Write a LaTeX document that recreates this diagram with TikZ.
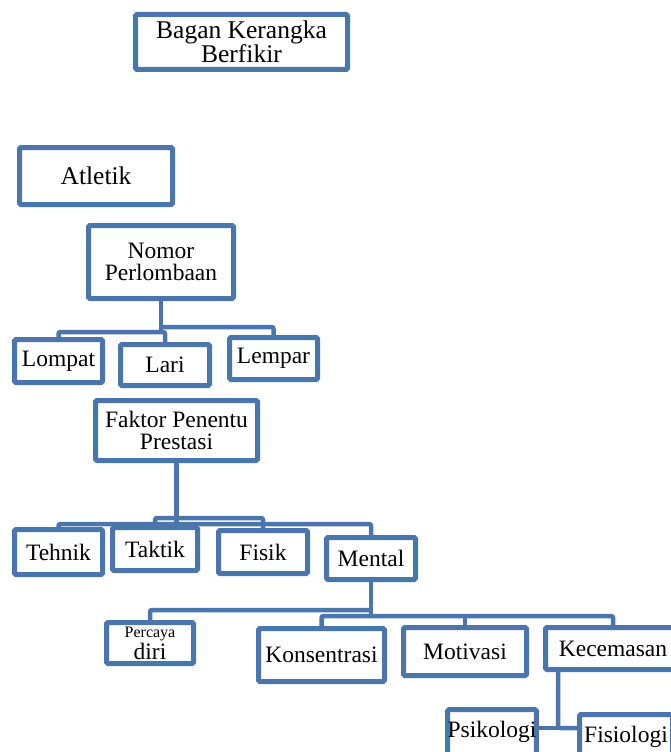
\documentclass[tikz,border=0pt]{standalone}
\usepackage{fontspec}
\setmainfont{Liberation Serif}
\usetikzlibrary{positioning}
\definecolor{boxline}{RGB}{74,118,173}

\begin{document}
\begin{tikzpicture}[
  x=1pt, y=-1pt,
  font=\fontsize{23.5}{22}\selectfont,
  box/.style={draw=boxline, line width=5pt, rounded corners=1.5pt, fill=white,
              inner sep=0pt, align=center},
  link/.style={draw=boxline, line width=4.5pt, rounded corners=2pt},
  bigtext/.style={font=\fontsize{25.5}{23}\selectfont},
]
\useasboundingbox (0,0) rectangle (670,752);
% header
\node[box, bigtext, minimum width=212pt, minimum height=55pt] (title) at (241.5,42)
  {Bagan Kerangka\\ Berfikir};
\node[box, bigtext, minimum width=153pt, minimum height=57pt] (atletik) at (96,176) {Atletik};
% nomor perlombaan
\node[box, minimum width=145pt, minimum height=73pt] (nomor) at (161,262) {Nomor\\ Perlombaan};
\node[box, minimum width=88pt, minimum height=43pt] (lompat) at (58.5,361) {Lompat};
\node[box, minimum width=89pt, minimum height=41pt] (lari) at (165,365) {Lari};
\node[box, minimum width=88pt, minimum height=42pt] (lempar) at (273.5,358.5) {Lempar};
% faktor penentu
\node[box, minimum width=162pt, minimum height=60pt] (faktor) at (176.5,430.5) {Faktor Penentu\\ Prestasi};
\node[box, minimum width=88pt, minimum height=45pt] (tehnik) at (58.5,552) {Tehnik};
\node[box, minimum width=85pt, minimum height=43pt] (taktik) at (155,549) {Taktik};
\node[box, minimum width=89pt, minimum height=43pt] (fisik) at (263,552) {Fisik};
\node[box, minimum width=89pt, minimum height=42pt] (mental) at (371,558.5) {Mental};
% mental
\node[box, minimum width=87pt, minimum height=41pt] (percaya) at (150,643)
  {{\fontsize{16}{16}\selectfont Percaya}\\ diri};
\node[box, minimum width=126pt, minimum height=53pt] (konsentrasi) at (321.5,655) {Konsentrasi};
\node[box, minimum width=123pt, minimum height=48pt] (motivasi) at (465,651.5) {Motivasi};
\node[box, minimum width=135pt, minimum height=42pt] (kecemasan) at (613,648.5) {Kecemasan};
\node[box, minimum width=85pt, minimum height=45pt] (psikologi) at (492,732) {Psikologi};
\node[box, minimum width=93pt, minimum height=45pt] (fisiologi) at (626,737) {Fisiologi};
% connectors
\draw[link] (nomor.south) -- (nomor.south |- 0,332);
\draw[link] (lompat.north) -- (lompat.north |- 0,332) -| (lari.north);
\draw[link] (nomor.south |- 0,327) -| (lempar.north);
\draw[link] (faktor.south) -- (faktor.south |- 0,524);
\draw[link] (tehnik.north) -- (tehnik.north |- 0,524) -| (mental.north);
\draw[link] (taktik.north) -- (taktik.north |- 0,518) -| (fisik.north);
\draw[link] (mental.south) -- (mental.south |- 0,616);
\draw[link] (percaya.north) -- (percaya.north |- 0,610) -- (mental.south |- 0,610);
\draw[link] (konsentrasi.north) -- (konsentrasi.north |- 0,616) -| (kecemasan.north);
\draw[link] (motivasi.north) -- (motivasi.north |- 0,616);
\draw[link] (558,0 |- kecemasan.south) |- (fisiologi.west |- 0,728);
\draw[link] (psikologi.east |- 0,728) -- (558,728);
\end{tikzpicture}
\end{document}
